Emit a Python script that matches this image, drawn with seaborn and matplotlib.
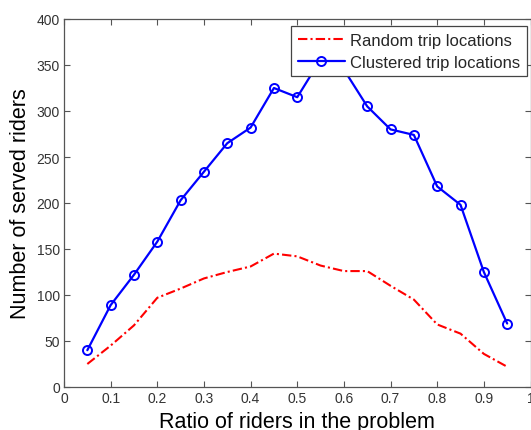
import matplotlib
matplotlib.use("Agg")
import matplotlib.pyplot as plt
import seaborn as sns
import numpy as np
import pandas as pd

# Data
ratio = [0.05, 0.10, 0.15, 0.20, 0.25, 0.30, 0.35, 0.40, 0.45, 0.50,
         0.55, 0.60, 0.65, 0.70, 0.75, 0.80, 0.85, 0.90, 0.95]
random_served = [25, 45, 67, 97, 107, 118, 125, 131, 145, 142,
                 132, 126, 126, 110, 95, 68, 58, 36, 22]
clustered_served = [40, 89, 122, 158, 203, 234, 265, 282, 325, 315,
                    356, 345, 305, 280, 274, 218, 198, 125, 69]
x_ticks = [0, 0.1, 0.2, 0.3, 0.4, 0.5, 0.6, 0.7, 0.8, 0.9, 1]
x_tick_labels = ["0", "0.1", "0.2", "0.3", "0.4", "0.5", "0.6", "0.7", "0.8", "0.9", "1"]
y_ticks = [0, 50, 100, 150, 200, 250, 300, 350, 400]
labels = ["Random trip locations", "Clustered trip locations"]

sns.set_theme(style="white")
plt.rcParams['font.family'] = ['Liberation Sans', 'DejaVu Sans']

W, H = 531, 431
fig = plt.figure(figsize=(W / 100, H / 100), dpi=100)
left, right, top, bottom = 64, 530.5, 20, 388
ax = fig.add_axes([left / W, (H - bottom) / H, (right - left) / W, (bottom - top) / H])

df = pd.DataFrame({"ratio": ratio, "random": random_served, "clustered": clustered_served})

sns.lineplot(data=df, x="ratio", y="random", ax=ax, color=(1, 0, 0),
             linewidth=1.5, linestyle=(0, (4.5, 1.5, 1, 1.5)), label=labels[0])
sns.lineplot(data=df, x="ratio", y="clustered", ax=ax, color=(0, 0, 1),
             linewidth=1.6, marker="o", markersize=6.5, markerfacecolor="none",
             markeredgecolor=(0, 0, 1), markeredgewidth=1.4, label=labels[1])

ax.set_xlim(0, 1)
ax.set_ylim(0, 400)
ax.set_xticks(x_ticks)
ax.set_xticklabels(x_tick_labels)
ax.set_yticks(y_ticks)

spine_color = "#555555"
for s in ax.spines.values():
    s.set_visible(True)
    s.set_color(spine_color)
    s.set_linewidth(0.9)
ax.tick_params(direction="in", length=4, width=0.8, colors=spine_color,
               labelcolor="#333333", labelsize=10, top=True, right=True,
               bottom=True, left=True, pad=3)

ax.set_xlabel("Ratio of riders in the problem", fontsize=15.5, color="black", labelpad=4.5)
ax.set_ylabel("Number of served riders", fontsize=15.5, color="black", labelpad=4)

leg = ax.legend(loc="upper right", bbox_to_anchor=(1 - 4 / (right - left), 1 - 7.3 / (bottom - top)),
                borderaxespad=0, fontsize=12, frameon=True, fancybox=False,
                handlelength=2.8, handletextpad=0.3, labelspacing=0.4,
                borderpad=0.4)
leg.get_frame().set_edgecolor("#444444")
leg.get_frame().set_linewidth(0.9)
leg.get_frame().set_facecolor("white")
leg.get_frame().set_alpha(1)

fig.savefig("out.png", dpi=100)
